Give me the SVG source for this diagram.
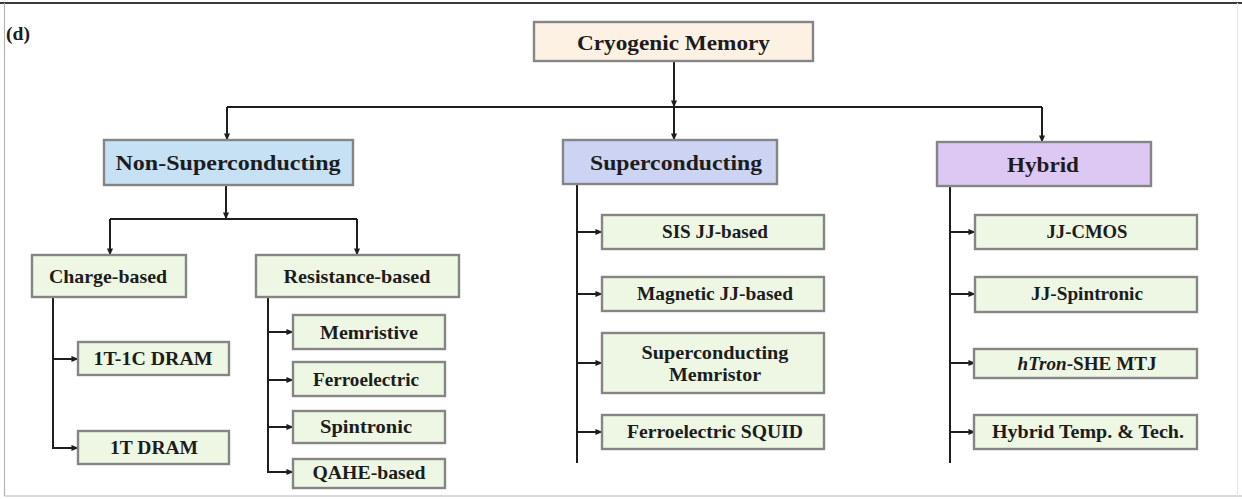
<svg xmlns="http://www.w3.org/2000/svg" width="1242" height="499" viewBox="0 0 1242 499">
  <defs>
    <marker id="arrow" viewBox="0 0 8 8" refX="7.5" refY="4" markerWidth="7" markerHeight="7" markerUnits="userSpaceOnUse" orient="auto">
      <path d="M0,0.5 L8,4 L0,7.5 Z" fill="#1e1e1e"/>
    </marker>
  </defs>
  <style>
    .frame-top { stroke: #3a3a3a; stroke-width: 2; }
    .frame { stroke: #b4b4b4; stroke-width: 1.2; fill: none; }
    .box { stroke: #858585; stroke-width: 2.4; }
    .root { fill: #fdf1e3; }
    .nonsc { fill: #c6e0f4; }
    .sc { fill: #cdd3f3; }
    .hyb { fill: #dcc8f3; }
    .leaf { fill: #eef7e4; }
    .lbl { font-family: "Liberation Serif", "Times New Roman", serif; font-weight: bold; fill: #1c1c1c; text-anchor: middle; }
    .big { font-size: 22px; }
    .mid { font-size: 19px; }
    .sm { font-size: 19px; }
    .conn { stroke: #1e1e1e; stroke-width: 2; fill: none; }
  </style>

  <rect width="1242" height="499" fill="#ffffff"/>

  <!-- outer frame -->
  <line class="frame-top" x1="0" y1="3" x2="1242" y2="3"/>
  <line class="frame" x1="4.5" y1="3" x2="4.5" y2="496"/>
  <line class="frame" x1="4.5" y1="496" x2="1242" y2="496"/>
  <line x1="1237.5" y1="3" x2="1237.5" y2="496" stroke="#e6e6e6" stroke-width="1.2"/>

  <text x="6" y="40" font-family="Liberation Serif, serif" font-weight="bold" font-size="18" fill="#1c1c1c" textLength="24" lengthAdjust="spacingAndGlyphs">(d)</text>

  <!-- connectors -->
  <g id="connectors">
    <path class="conn" d="M674,61 V107" marker-end="url(#arrow)"/>
    <path class="conn" d="M227,107 H1042"/>
    <path class="conn" d="M674,107 V140" marker-end="url(#arrow)"/>
    <path class="conn" d="M227,107 V140" marker-end="url(#arrow)"/>
    <path class="conn" d="M1042,107 V142" marker-end="url(#arrow)"/>

    <path class="conn" d="M226,185 V219" marker-end="url(#arrow)"/>
    <path class="conn" d="M110,219 H357"/>
    <path class="conn" d="M110,219 V255" marker-end="url(#arrow)"/>
    <path class="conn" d="M357,219 V255" marker-end="url(#arrow)"/>

    <path class="conn" d="M53,297 V448 H78" marker-end="url(#arrow)"/>
    <path class="conn" d="M53,359 H78" marker-end="url(#arrow)"/>

    <path class="conn" d="M268,297 V472 H293" marker-end="url(#arrow)"/>
    <path class="conn" d="M268,332 H293" marker-end="url(#arrow)"/>
    <path class="conn" d="M268,380 H293" marker-end="url(#arrow)"/>
    <path class="conn" d="M268,427 H293" marker-end="url(#arrow)"/>

    <path class="conn" d="M577,184 V463"/>
    <path class="conn" d="M577,232 H602" marker-end="url(#arrow)"/>
    <path class="conn" d="M577,294 H602" marker-end="url(#arrow)"/>
    <path class="conn" d="M577,363 H602" marker-end="url(#arrow)"/>
    <path class="conn" d="M577,432 H602" marker-end="url(#arrow)"/>

    <path class="conn" d="M950,186 V463"/>
    <path class="conn" d="M950,232 H975" marker-end="url(#arrow)"/>
    <path class="conn" d="M950,294 H975" marker-end="url(#arrow)"/>
    <path class="conn" d="M950,363 H975" marker-end="url(#arrow)"/>
    <path class="conn" d="M950,432 H975" marker-end="url(#arrow)"/>
  </g>

  <!-- top level -->
  <g id="cryogenic-memory">
    <rect class="box root" x="534" y="22" width="279" height="39"/>
    <text class="lbl big" x="673.5" y="50" textLength="193" lengthAdjust="spacingAndGlyphs">Cryogenic Memory</text>
  </g>

  <g id="non-superconducting">
    <rect class="box nonsc" x="104" y="140" width="249" height="45"/>
    <text class="lbl big" x="228" y="170" textLength="225" lengthAdjust="spacingAndGlyphs">Non-Superconducting</text>
  </g>
  <g id="superconducting">
    <rect class="box sc" x="563" y="140" width="214" height="44"/>
    <text class="lbl big" x="676" y="170" textLength="172" lengthAdjust="spacingAndGlyphs">Superconducting</text>
  </g>
  <g id="hybrid">
    <rect class="box hyb" x="937" y="142" width="214" height="44"/>
    <text class="lbl big" x="1043" y="172" textLength="72" lengthAdjust="spacingAndGlyphs">Hybrid</text>
  </g>

  <!-- non-superconducting branch -->
  <g id="charge-based">
    <rect class="box leaf" x="32" y="255" width="154" height="42"/>
    <text class="lbl mid" x="108" y="283" textLength="118" lengthAdjust="spacingAndGlyphs">Charge-based</text>
  </g>
  <g id="resistance-based">
    <rect class="box leaf" x="256" y="255" width="203" height="42"/>
    <text class="lbl mid" x="357" y="283" textLength="147" lengthAdjust="spacingAndGlyphs">Resistance-based</text>
  </g>
  <g id="dram-1t1c">
    <rect class="box leaf" x="78" y="342" width="151" height="33"/>
    <text class="lbl mid" x="153" y="365" textLength="119" lengthAdjust="spacingAndGlyphs">1T-1C DRAM</text>
  </g>
  <g id="dram-1t">
    <rect class="box leaf" x="78" y="431" width="151" height="33"/>
    <text class="lbl mid" x="154" y="454" textLength="88" lengthAdjust="spacingAndGlyphs">1T DRAM</text>
  </g>
  <g id="memristive">
    <rect class="box leaf" x="293" y="315" width="152" height="34"/>
    <text class="lbl mid" x="369" y="339" textLength="98" lengthAdjust="spacingAndGlyphs">Memristive</text>
  </g>
  <g id="ferroelectric">
    <rect class="box leaf" x="293" y="362" width="152" height="34"/>
    <text class="lbl mid" x="366" y="386" textLength="106" lengthAdjust="spacingAndGlyphs">Ferroelectric</text>
  </g>
  <g id="spintronic">
    <rect class="box leaf" x="293" y="411" width="152" height="32"/>
    <text class="lbl mid" x="366" y="433" textLength="92" lengthAdjust="spacingAndGlyphs">Spintronic</text>
  </g>
  <g id="qahe-based">
    <rect class="box leaf" x="293" y="459" width="152" height="29"/>
    <text class="lbl mid" x="369" y="479" textLength="113" lengthAdjust="spacingAndGlyphs">QAHE-based</text>
  </g>

  <!-- superconducting branch -->
  <g id="sis-jj">
    <rect class="box leaf" x="602" y="215" width="222" height="34"/>
    <text class="lbl sm" x="715" y="238" textLength="106" lengthAdjust="spacingAndGlyphs">SIS JJ-based</text>
  </g>
  <g id="magnetic-jj">
    <rect class="box leaf" x="602" y="277" width="222" height="34"/>
    <text class="lbl sm" x="715" y="300" textLength="156" lengthAdjust="spacingAndGlyphs">Magnetic JJ-based</text>
  </g>
  <g id="sc-memristor">
    <rect class="box leaf" x="602" y="333" width="222" height="60"/>
    <text class="lbl sm" x="715" y="359" textLength="147" lengthAdjust="spacingAndGlyphs">Superconducting</text>
    <text class="lbl sm" x="715" y="381" textLength="92" lengthAdjust="spacingAndGlyphs">Memristor</text>
  </g>
  <g id="ferroelectric-squid">
    <rect class="box leaf" x="602" y="415" width="222" height="34"/>
    <text class="lbl sm" x="715" y="438" textLength="176" lengthAdjust="spacingAndGlyphs">Ferroelectric SQUID</text>
  </g>

  <!-- hybrid branch -->
  <g id="jj-cmos">
    <rect class="box leaf" x="975" y="215" width="222" height="34"/>
    <text class="lbl sm" x="1087" y="238" textLength="81" lengthAdjust="spacingAndGlyphs">JJ-CMOS</text>
  </g>
  <g id="jj-spintronic">
    <rect class="box leaf" x="975" y="277" width="222" height="35"/>
    <text class="lbl sm" x="1087" y="300" textLength="112" lengthAdjust="spacingAndGlyphs">JJ-Spintronic</text>
  </g>
  <g id="htron-she-mtj">
    <rect class="box leaf" x="974" y="349" width="223" height="29"/>
    <text class="lbl sm" x="1087" y="370" textLength="139" lengthAdjust="spacingAndGlyphs"><tspan font-style="italic">hTron</tspan>-SHE MTJ</text>
  </g>
  <g id="hybrid-temp-tech">
    <rect class="box leaf" x="974" y="415" width="223" height="34"/>
    <text class="lbl sm" x="1088" y="438" textLength="192" lengthAdjust="spacingAndGlyphs">Hybrid Temp. &amp; Tech.</text>
  </g>
</svg>
